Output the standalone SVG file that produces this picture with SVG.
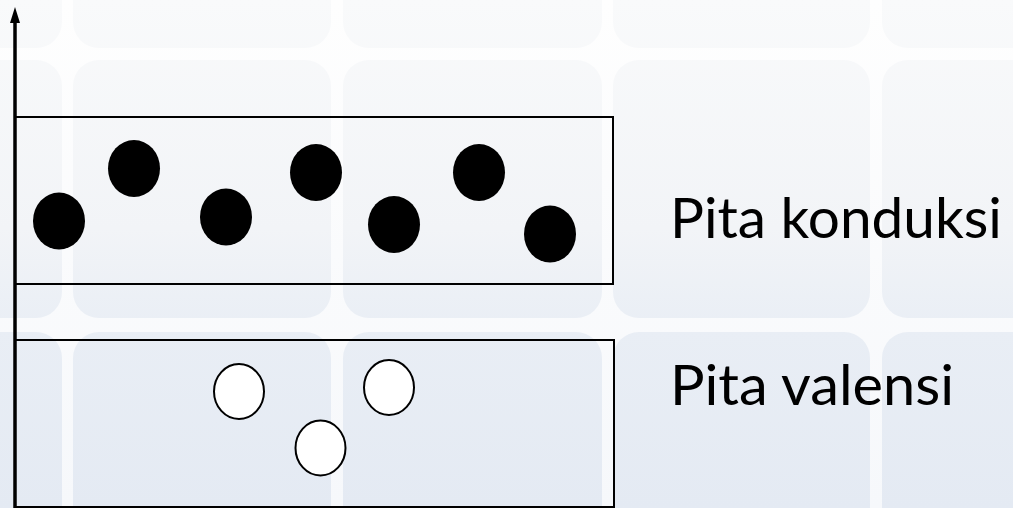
<svg xmlns="http://www.w3.org/2000/svg" width="1013" height="508" viewBox="0 0 1013 508">
<defs>
<linearGradient id="tileg" gradientUnits="userSpaceOnUse" x1="0" y1="0" x2="0" y2="508">
<stop offset="0" stop-color="#f9fafb"/>
<stop offset="0.45" stop-color="#f2f4f7"/>
<stop offset="0.65" stop-color="#e9eef5"/>
<stop offset="1" stop-color="#e4eaf3"/>
</linearGradient>
<linearGradient id="bgg" gradientUnits="userSpaceOnUse" x1="0" y1="0" x2="0" y2="508">
<stop offset="0" stop-color="#fefefe"/>
<stop offset="1" stop-color="#f6f8fb"/>
</linearGradient>
</defs>
<style>
.tile{fill:url(#tileg)}
.band{fill:none;stroke:#000;stroke-width:2}
.e{fill:#000;stroke:none}
.h{fill:#fff;stroke:#000;stroke-width:2}
.lbl{font-family:Lato,"Open Sans",sans-serif;font-size:57px;fill:#000}
</style>
<rect width="1013" height="508" fill="url(#bgg)"/>
<g id="background">
<rect class="tile" x="-196" y="-210" width="258" height="258" rx="26"/>
<rect class="tile" x="73" y="-210" width="258" height="258" rx="26"/>
<rect class="tile" x="343" y="-210" width="259" height="258" rx="26"/>
<rect class="tile" x="613" y="-210" width="257" height="258" rx="26"/>
<rect class="tile" x="882" y="-210" width="258" height="258" rx="26"/>
<rect class="tile" x="-196" y="60" width="258" height="258" rx="26"/>
<rect class="tile" x="73" y="60" width="258" height="258" rx="26"/>
<rect class="tile" x="343" y="60" width="259" height="258" rx="26"/>
<rect class="tile" x="613" y="60" width="257" height="258" rx="26"/>
<rect class="tile" x="882" y="60" width="258" height="258" rx="26"/>
<rect class="tile" x="-196" y="332" width="258" height="258" rx="26"/>
<rect class="tile" x="73" y="332" width="258" height="258" rx="26"/>
<rect class="tile" x="343" y="332" width="259" height="258" rx="26"/>
<rect class="tile" x="613" y="332" width="257" height="258" rx="26"/>
<rect class="tile" x="882" y="332" width="258" height="258" rx="26"/>
</g>
<g id="conduction-band">
<rect class="band" x="15" y="117" width="598" height="167"/>
<ellipse class="e" cx="59" cy="221" rx="26" ry="28.5"/>
<ellipse class="e" cx="134" cy="168.5" rx="26" ry="28.5"/>
<ellipse class="e" cx="226" cy="217" rx="26" ry="28.5"/>
<ellipse class="e" cx="316" cy="172.5" rx="26" ry="28.5"/>
<ellipse class="e" cx="394" cy="224.5" rx="26" ry="28.5"/>
<ellipse class="e" cx="479" cy="172.5" rx="26" ry="28.5"/>
<ellipse class="e" cx="550" cy="234" rx="26" ry="28.5"/>
</g>
<g id="valence-band">
<rect class="band" x="15" y="340" width="599" height="167"/>
<ellipse class="h" cx="239" cy="391.5" rx="25" ry="27.5"/>
<ellipse class="h" cx="320.5" cy="448" rx="25" ry="27.5"/>
<ellipse class="h" cx="389" cy="387.5" rx="25" ry="27.5"/>
</g>
<g id="connectors">
<line x1="15" y1="508" x2="15" y2="20" stroke="#000" stroke-width="3.5"/>
<polygon points="15,7 20,23 10,23" fill="#000"/>
</g>
<g id="label-conduction">
<text class="lbl" x="670" y="238" textLength="332" lengthAdjust="spacingAndGlyphs">Pita konduksi</text>
</g>
<g id="label-valence">
<text class="lbl" x="670" y="405" textLength="284" lengthAdjust="spacingAndGlyphs">Pita valensi</text>
</g>
</svg>
